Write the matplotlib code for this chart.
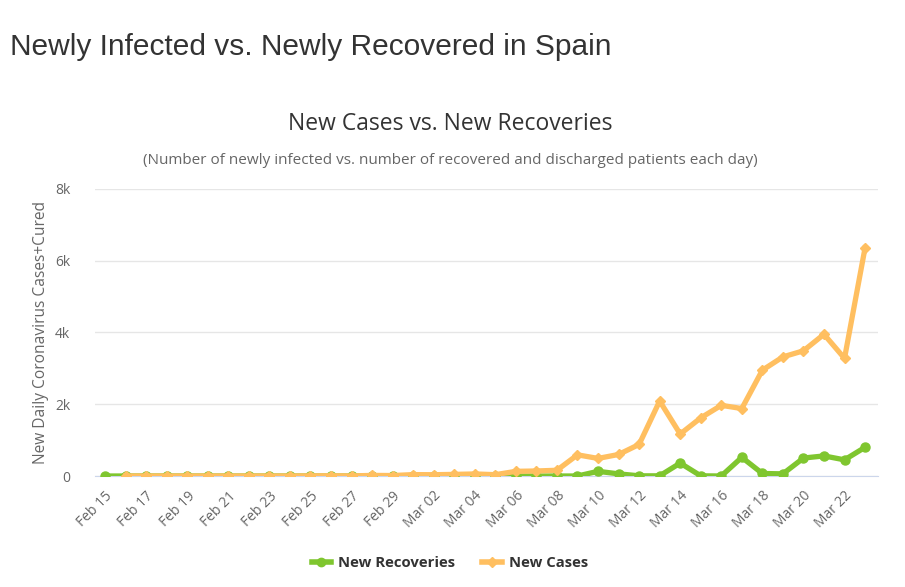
import numpy as np
import pandas as pd
import matplotlib
matplotlib.use("Agg")
import matplotlib.pyplot as plt
from matplotlib.lines import Line2D

# Daily data, Feb 15 - Mar 23
dates = pd.date_range("2020-02-15", "2020-03-23", freq="D")
date_labels = [d.strftime("%b %d") for d in dates]

new_recoveries = [0, 0, 0, 0, 0, 0, 0, 0, 0, 0,
                  0, 0, 0, 0, 0, 0, 0, 0, 0, 0,
                  0, 0, 0, 0, 130, 60, 5, 5, 360, 5,
                  0, 520, 70, 60, 500, 560, 450, 800]
new_cases = [np.nan, 0, 0, 0, 0, 0, 0, 0, 0, 0,
             4, 7, 2, 17, 13, 39, 36, 45, 57, 37,
             130, 140, 160, 590, 490, 600, 880, 2090, 1170, 1620,
             1970, 1880, 2950, 3320, 3490, 3950, 3280, 6360]

green = "#7fc62f"
orange = "#ffbf60"

x = np.arange(len(dates))

fig = plt.figure(figsize=(9.05, 5.87), dpi=100)
ax = fig.add_axes([95 / 905, 1 - 476 / 587, 783 / 905, 287 / 587])

ax.plot(x, new_recoveries, color=green, lw=3.8, marker="o", ms=6.5,
        solid_joinstyle="round", zorder=3)
ax.plot(x, new_cases, color=orange, lw=3.8, marker="D", ms=5,
        solid_joinstyle="round", zorder=4)

ax.set_xlim(-0.49, 37.63)
ax.set_ylim(0, 8000)
ax.set_yticks([0, 2000, 4000, 6000, 8000])
ax.set_yticklabels(["0", "2k", "4k", "6k", "8k"])
ax.set_xticks(x[::2])
ax.set_xticklabels(date_labels[::2], rotation=45, ha="right",
                   rotation_mode="anchor")

ax.grid(axis="y", color="#e6e6e6", lw=1)
ax.set_axisbelow(True)
for s in ["top", "right", "left"]:
    ax.spines[s].set_visible(False)
ax.spines["bottom"].set_color("#ccd6eb")
ax.tick_params(axis="both", length=0, labelsize=10, labelcolor="#666666")
ax.tick_params(axis="x", pad=9)
ax.tick_params(axis="y", pad=18)
for lab in ax.get_xticklabels() + ax.get_yticklabels():
    lab.set_family("Open Sans")

ax.set_ylabel("New Daily Coronavirus Cases+Cured", fontsize=11.2,
              color="#666666", family="Open Sans", labelpad=4)

fig.text(10 / 905, 1 - 47 / 587, "Newly Infected vs. Newly Recovered in Spain",
         fontsize=21.5, color="#333333", family="Liberation Sans",
         ha="left", va="center")
fig.text(450 / 905, 1 - 124 / 587, "New Cases vs. New Recoveries",
         fontsize=16.5, color="#333333", family="Open Sans",
         ha="center", va="center")
fig.text(450 / 905, 1 - 160 / 587,
         "(Number of newly infected vs. number of recovered and discharged patients each day)",
         fontsize=11, color="#666666", family="Open Sans",
         ha="center", va="center")

handles = [Line2D([], [], color=green, lw=4, marker="o", ms=6),
           Line2D([], [], color=orange, lw=4, marker="D", ms=5)]
leg = fig.legend(handles, ["New Recoveries", "New Cases"], loc="center",
                 bbox_to_anchor=(450 / 905, 1 - 563 / 587), ncol=2,
                 frameon=False, handlelength=1.3, handletextpad=0.5,
                 columnspacing=1.8,
                 prop={"family": "Open Sans", "weight": "bold", "size": 10.7})
for t in leg.get_texts():
    t.set_color("#333333")

fig.savefig("out.png", dpi=100, facecolor="white")
